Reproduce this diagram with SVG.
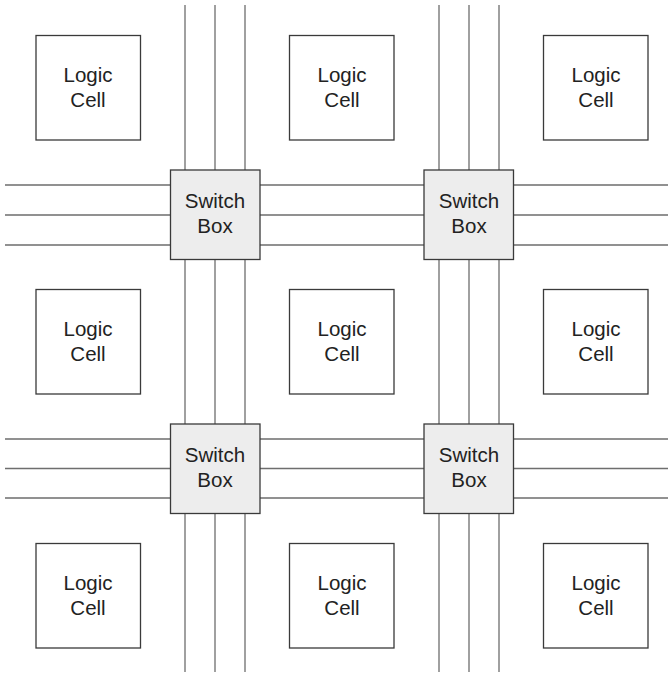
<svg xmlns="http://www.w3.org/2000/svg" width="669" height="677" viewBox="0 0 669 677">
<style>
.wire{stroke:#6e6e6e;stroke-width:1.3;fill:none}
.cell{fill:#fff;stroke:#3a3a3a;stroke-width:1.3}
.sw{fill:#ededed;stroke:#3a3a3a;stroke-width:1.3}
text{font-family:"Liberation Sans",Arial,sans-serif;font-size:20.5px;fill:#222;text-anchor:middle}
</style>
<rect width="669" height="677" fill="#fff"/>
<g id="connectors">
<path class="wire" d="M185,5V672M215,5V672M245,5V672M439,5V672M469,5V672M499,5V672"/>
<path class="wire" d="M5,185H668M5,215H668M5,245H668M5,439H668M5,468.5H668M5,498H668"/>
</g>
<g id="cell11"><rect class="cell" x="36" y="35.5" width="104.5" height="104.5"/><text x="88" y="82">Logic</text><text x="88" y="107">Cell</text></g>
<g id="cell12"><rect class="cell" x="289.5" y="35.5" width="104.5" height="104.5"/><text x="342" y="82">Logic</text><text x="342" y="107">Cell</text></g>
<g id="cell13"><rect class="cell" x="543.5" y="35.5" width="104.5" height="104.5"/><text x="596" y="82">Logic</text><text x="596" y="107">Cell</text></g>
<g id="cell21"><rect class="cell" x="36" y="289.5" width="104.5" height="104.5"/><text x="88" y="336">Logic</text><text x="88" y="361">Cell</text></g>
<g id="cell22"><rect class="cell" x="289.5" y="289.5" width="104.5" height="104.5"/><text x="342" y="336">Logic</text><text x="342" y="361">Cell</text></g>
<g id="cell23"><rect class="cell" x="543.5" y="289.5" width="104.5" height="104.5"/><text x="596" y="336">Logic</text><text x="596" y="361">Cell</text></g>
<g id="cell31"><rect class="cell" x="36" y="543.5" width="104.5" height="104.5"/><text x="88" y="590">Logic</text><text x="88" y="615">Cell</text></g>
<g id="cell32"><rect class="cell" x="289.5" y="543.5" width="104.5" height="104.5"/><text x="342" y="590">Logic</text><text x="342" y="615">Cell</text></g>
<g id="cell33"><rect class="cell" x="543.5" y="543.5" width="104.5" height="104.5"/><text x="596" y="590">Logic</text><text x="596" y="615">Cell</text></g>
<g id="sw11"><rect class="sw" x="170.5" y="170" width="89.5" height="89.5"/><text x="215" y="207.5">Switch</text><text x="215" y="233">Box</text></g>
<g id="sw12"><rect class="sw" x="424" y="170" width="89.5" height="89.5"/><text x="469" y="207.5">Switch</text><text x="469" y="233">Box</text></g>
<g id="sw21"><rect class="sw" x="170.5" y="424" width="89.5" height="89.5"/><text x="215" y="461.5">Switch</text><text x="215" y="487">Box</text></g>
<g id="sw22"><rect class="sw" x="424" y="424" width="89.5" height="89.5"/><text x="469" y="461.5">Switch</text><text x="469" y="487">Box</text></g>
</svg>
